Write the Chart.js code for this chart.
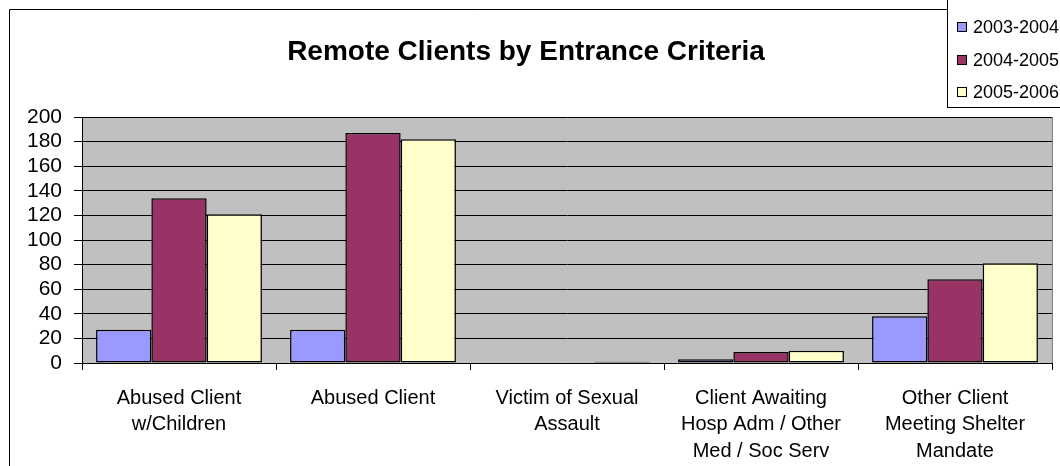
<!DOCTYPE html>
<html>
<head>
<meta charset="utf-8">
<script src="https://cdn.jsdelivr.net/npm/chart.js@4/dist/chart.umd.min.js"></script>
<style>
  html, body { margin: 0; padding: 0; background: #fff; }
  #wrap { width: 1060px; height: 466px; position: relative; }
</style>
</head>
<body>
<div id="wrap"><canvas id="chart" width="1060" height="466"></canvas></div>
<script>
// Data
const categories = [
  ['Abused Client', 'w/Children'],
  ['Abused Client'],
  ['Victim of Sexual', 'Assault'],
  ['Client Awaiting', 'Hosp Adm / Other', 'Med / Soc Serv'],
  ['Other Client', 'Meeting Shelter', 'Mandate']
];
const seriesNames = ['2003-2004', '2004-2005', '2005-2006'];
const values0304 = [27, 27, 0, 3, 38];
const values0405 = [134, 187, 0, 9, 68];
const values0506 = [121, 182, 1, 10, 81];
const yTicks = [0, 20, 40, 60, 80, 100, 120, 140, 160, 180, 200];

const FONT = '"Liberation Sans", Arial, sans-serif';
const colors = ['#9999FF', '#993366', '#FFFFCC'];

// Background, outer frame and legend box (Excel style)
const frame = {
  id: 'frame',
  beforeDraw(chart) {
    const c = chart.ctx, a = chart.chartArea;
    c.save();
    c.fillStyle = '#fff';
    c.fillRect(0, 0, chart.width, chart.height);
    c.fillStyle = '#C0C0C0';
    c.fillRect(a.left, a.top, a.right - a.left, a.bottom - a.top);
    c.restore();
  },
  afterDraw(chart) {
    const c = chart.ctx, a = chart.chartArea;
    c.save();
    // plot area right edge
    c.strokeStyle = '#808080';
    c.lineWidth = 1;
    c.beginPath();
    c.moveTo(Math.round(a.right) + 0.5, a.top);
    c.lineTo(Math.round(a.right) + 0.5, a.bottom);
    c.stroke();
    // outer chart frame
    c.strokeStyle = '#000';
    c.beginPath();
    c.moveTo(9.5, chart.height + 1);
    c.lineTo(9.5, 9.5);
    c.lineTo(948, 9.5);
    c.stroke();
    // legend
    c.fillStyle = '#fff';
    c.fillRect(947.5, -1, 130, 108.5);
    c.strokeRect(947.5, -1, 130, 108.5);
    c.font = '18px ' + FONT;
    c.textBaseline = 'middle';
    const rows = [27, 60, 92];
    chart.data.datasets.forEach((ds, i) => {
      c.fillStyle = ds.backgroundColor;
      c.fillRect(957.5, rows[i] - 4.5, 9, 9);
      c.strokeStyle = '#000';
      c.strokeRect(957.5, rows[i] - 4.5, 9, 9);
      c.fillStyle = '#000';
      c.fillText(ds.label, 973, rows[i] + 1);
    });
    c.restore();
  }
};

const ctx = document.getElementById('chart').getContext('2d');
const chart = new Chart(ctx, {
  type: 'bar',
  data: {
    labels: categories,
    datasets: [values0304, values0405, values0506].map((vals, i) => ({
      label: seriesNames[i],
      data: vals,
      backgroundColor: colors[i],
      borderColor: '#000',
      borderWidth: 1.5,
      borderSkipped: false,
      categoryPercentage: 0.855,
      barPercentage: 1
    }))
  },
  options: {
    responsive: false,
    animation: false,
    layout: { padding: { left: 0, right: 8, top: 0, bottom: 0 } },
    plugins: {
      legend: { display: false },
      tooltip: { enabled: false },
      title: {
        display: true,
        text: 'Remote Clients by Entrance Criteria',
        color: '#000',
        font: { family: FONT, size: 28, weight: 'bold', lineHeight: 1.2 },
        padding: { top: 35, bottom: 48.4 }
      }
    },
    scales: {
      x: {
        offset: true,
        grid: { display: true, drawOnChartArea: false, drawTicks: true, tickLength: 7, color: '#000', offset: true },
        border: { display: true, color: '#000', width: 1 },
        ticks: {
          color: '#000',
          padding: 15,
          maxRotation: 0,
          autoSkip: false,
          font: { family: FONT, size: 20, lineHeight: 1.32 }
        },
        afterFit(s) { s.height = 103; }
      },
      y: {
        min: 0,
        max: 200,
        afterBuildTicks(s) { s.ticks = yTicks.map(v => ({ value: v })); },
        grid: { color: '#000', lineWidth: 1, drawTicks: true, tickLength: 8 },
        border: { display: true, color: '#000', width: 1 },
        ticks: {
          color: '#000',
          padding: 12,
          autoSkip: false,
          font: { family: FONT, size: 21, lineHeight: 1 }
        },
        afterFit(s) { s.width = 82; }
      }
    }
  },
  plugins: [frame]
});
</script>
</body>
</html>
